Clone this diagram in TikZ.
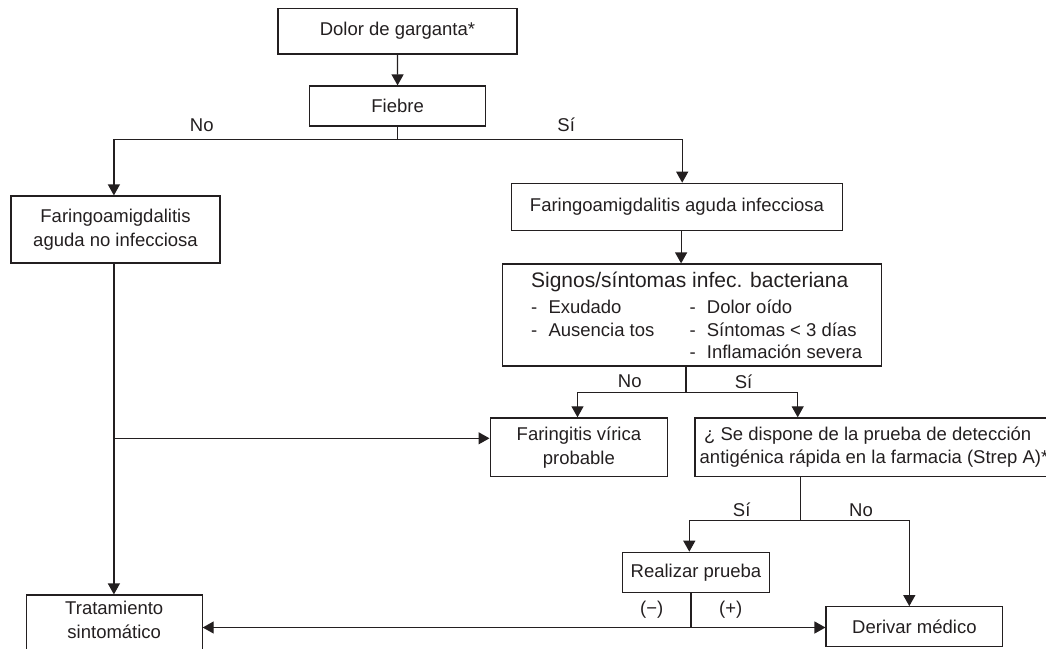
\documentclass[tikz,border=0pt]{standalone}
\usepackage{fontspec}
\setmainfont{Liberation Sans}
\usetikzlibrary{arrows.meta}
\definecolor{ink}{HTML}{231F20}
\begin{document}
\begin{tikzpicture}[x=1pt,y=-1pt,
  box/.style={draw=ink, line width=1.2pt, inner sep=0pt, align=center, text=ink, font=\fontsize{18.5}{24}\selectfont},
  txt/.style={text=ink, inner sep=0pt, align=center, font=\fontsize{18.5}{24}\selectfont},
  item/.style={text=ink, inner sep=0pt, anchor=base west, font=\fontsize{18.5}{22}\selectfont},
  arr/.style={draw=ink, line width=1.2pt, -{Triangle[length=11pt,width=12pt]}},
  ln/.style={draw=ink, line width=1.2pt},
]
\useasboundingbox (0,0) rectangle (1046,648);
\clip (0,0) rectangle (1046,648);

% boxes
\node[box, minimum width=239pt, minimum height=45.7pt] (dolor) at (397.5,31.2) {Dolor de garganta*};
\node[box, minimum width=176pt, minimum height=40pt] (fiebre) at (397.6,106) {Fiebre};
\node[box, minimum width=209pt, minimum height=67pt] (noinf) at (115.5,229.5) {Faringoamigdalitis\\aguda no infecciosa};
\node[box, minimum width=330.6pt, minimum height=47pt] (inf) at (677,206.8) {Faringoamigdalitis aguda infecciosa};
\node[box, minimum width=378.6pt, minimum height=102pt] (signos) at (692,315) {};
\node[box, minimum width=177.6pt, minimum height=58.6pt] (viral) at (578.9,447.2) {Faringitis vírica\\probable};
\node[box, minimum width=370pt, minimum height=58.6pt] (strep) at (880,447.2) {};
\node[box, minimum width=146.6pt, minimum height=40.4pt] (realizar) at (696,572.5) {Realizar prueba};
\node[box, minimum width=176.7pt, minimum height=40pt] (derivar) at (914.4,626.7) {Derivar médico};
\node[box, minimum width=175.7pt, minimum height=70pt] (trat) at (114.25,630) {};

% texts inside open boxes
\node[item] (st1) at (704,440.5) {¿ Se dispone de la prueba de detección};
\node[item] (st2) at (699.5,463.3) {antigénica rápida en la farmacia (Strep A)*};
\node[txt] (tratt) at (114.25,620) {Tratamiento\\sintomático};
\node[text=ink, inner sep=0pt, anchor=base, font=\fontsize{21}{25}\selectfont] (sighead) at (689.7,287.5) {Signos/síntomas infec. bacteriana};
\node[item] (i1) at (531,313) {\makebox[17.3pt][l]{-}Exudado};
\node[item] (i2) at (531,336) {\makebox[17.3pt][l]{-}Ausencia tos};
\node[item] (i3) at (689.5,313) {\makebox[17.2pt][l]{-}Dolor oído};
\node[item] (i4) at (689.5,336) {\makebox[17.2pt][l]{-}Síntomas < 3 días};
\node[item] (i5) at (689.5,358.5) {\makebox[17.2pt][l]{-}Inflamación severa};

% junctions
\coordinate (j1) at (397.6,139.3);
\coordinate (j1l) at (113.9,139.3);
\coordinate (j1r) at (682.2,139.3);
\coordinate (a2) at (681.1,0);
\coordinate (j3) at (686,392.7);
\coordinate (j3l) at (577.5,392.7);
\coordinate (j3r) at (797.7,392.7);
\coordinate (j4) at (113.9,438.3);
\coordinate (j5) at (800.7,520.7);
\coordinate (j5l) at (689.3,520.7);
\coordinate (j5r) at (909.3,520.7);
\coordinate (j6) at (691,627.5);

% connectors
\draw[arr] (dolor) -- (fiebre);
\draw[ln] (fiebre.south) -- (j1);
\draw[arr] (j1) -- (j1l) -- (j1l |- noinf.north);
\draw[arr] (j1) -- (j1r) -- (j1r |- inf.north);
\draw[arr] (a2 |- inf.south) -- (a2 |- signos.north);
\draw[ln] (j3 |- signos.south) -- (j3);
\draw[arr] (j3) -- (j3l) -- (j3l |- viral.north);
\draw[arr] (j3) -- (j3r) -- (j3r |- strep.north);
\draw[arr] (j1l |- noinf.south) -- (j1l |- trat.north);
\draw[arr] (j4) -- (j4 -| viral.west);
\draw[ln] (j5 |- strep.south) -- (j5);
\draw[arr] (j5) -- (j5l) -- (j5l |- realizar.north);
\draw[arr] (j5) -- (j5r) -- (j5r |- derivar.north);
\draw[ln] (j6 |- realizar.south) -- (j6);
\draw[arr] (j6) -- (j6 -| derivar.west);
\draw[arr] (j6) -- (j6 -| trat.east);

% labels
\node[txt] (l1) at (201.8,125) {No};
\node[txt] (l2) at (566.2,125) {Sí};
\node[txt] (l3) at (629.8,381.7) {No};
\node[txt] (l4) at (743.5,381.7) {Sí};
\node[txt] (l5) at (741.7,510) {Sí};
\node[txt] (l6) at (861,510) {No};
\node[txt] (l7) at (651.7,610) {(−)};
\node[txt] (l8) at (730.7,610) {(+)};
\end{tikzpicture}
\end{document}
